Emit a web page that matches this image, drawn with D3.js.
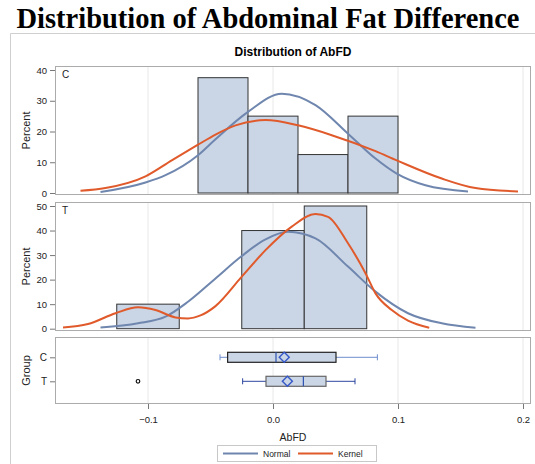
<!DOCTYPE html>
<html>
<head>
<meta charset="utf-8">
<script src="https://cdn.jsdelivr.net/npm/d3@7"></script>
<style>
  body { margin: 0; background: #fff; }
  svg text { font-family: "Liberation Sans", Arial, sans-serif; fill: #222; }
</style>
</head>
<body>
<div id="app"></div>
<script>
// histogram bins (AbFD) and percents
const edgesC = [-0.06, -0.02, 0.02, 0.06, 0.10]
const pctC = [37.5, 25, 12.5, 25]
const edgesT = [-0.125, -0.075, -0.025, 0.025, 0.075]
const pctT = [10, 0, 40, 50]

// density curves [AbFD, percent]
const normalC = [[-0.138,0.3],[-0.102,3.4],[-0.086,5.8],[-0.060,12.3],[-0.046,17.5],[-0.020,26.4],[0.007,32.3],[0.034,28.6],[0.060,19.3],[0.082,11.2],[0.099,6.3],[0.122,2.5],[0.156,0.5]]
const kernelC = [[-0.154,0.7],[-0.134,1.6],[-0.102,5.4],[-0.081,10.6],[-0.060,15.7],[-0.046,19.0],[-0.030,22],[-0.006,23.7],[0.020,22],[0.047,18.8],[0.082,13.6],[0.099,10.6],[0.135,4.7],[0.162,1.6],[0.196,0.5]]
const normalT = [[-0.138,0.5],[-0.108,2.2],[-0.086,4.9],[-0.068,11],[-0.046,20.5],[-0.025,29.6],[-0.006,36.4],[0.012,39.5],[0.034,36.8],[0.060,25.3],[0.082,15.1],[0.108,6.3],[0.135,2.2],[0.162,0.4]]
const kernelT = [[-0.168,0.5],[-0.148,1.9],[-0.126,6.3],[-0.108,8.7],[-0.094,7.6],[-0.078,4.6],[-0.068,4.2],[-0.058,5.4],[-0.046,9.2],[-0.025,21.2],[-0.006,32],[0.015,41.6],[0.034,46.7],[0.044,45.6],[0.060,34.8],[0.074,22.6],[0.082,14.4],[0.095,7.6],[0.108,3.3],[0.125,0.4]]

// box plot stats
const groups = ['C', 'T']
const boxStats = [
  {g: 'C', lo: -0.0424, q1: -0.0363, med: 0.0024, mean: 0.009, q3: 0.0504, hi: 0.0835, out: []},
  {g: 'T', lo: -0.0243, q1: -0.0056, med: 0.0243, mean: 0.0115, q3: 0.0424, hi: 0.0656, out: [-0.108]}
]

const xTicks = [-0.1, 0.0, 0.1, 0.2]
const yTicksC = [0, 10, 20, 30, 40]
const yTicksT = [0, 10, 20, 30, 40, 50]

const normalColor = '#6f86ae'
const kernelColor = '#e05a2b'
const fillColor = '#cad5e5'

const svg = d3.select('#app').append('svg').attr('width', 535).attr('height', 464)

// outer frame
svg.append('path').attr('d', 'M10.5,464 V33.5 H535').attr('fill', 'none').attr('stroke', '#cfcfcf')

svg.append('text').attr('x', 268).attr('y', 28).attr('text-anchor', 'middle')
  .style('font-family', '"Liberation Serif", "Times New Roman", serif')
  .style('font-weight', 'bold').style('font-size', '28.5px').style('fill', '#000')
  .text('Distribution of Abdominal Fat Difference')

svg.append('text').attr('x', 293).attr('y', 56).attr('text-anchor', 'middle')
  .style('font-weight', 'bold').style('font-size', '12px').style('fill', '#000')
  .text('Distribution of AbFD')

const L = 55, R = 531
const x = d3.scaleLinear().domain([-0.1, 0.2]).range([148, 523])

const panels = [
  {name: 'C', top: 66, bottom: 195, y: d3.scaleLinear().domain([0, 40]).range([193, 70]), ticks: yTicksC, edges: edgesC, pct: pctC, normal: normalC, kernel: kernelC},
  {name: 'T', top: 202, bottom: 331, y: d3.scaleLinear().domain([0, 50]).range([328.7, 206]), ticks: yTicksT, edges: edgesT, pct: pctT, normal: normalT, kernel: kernelT}
]

function grid(g, top, bottom) {
  g.selectAll('line.grid').data(xTicks).enter().append('line')
    .attr('class', 'grid')
    .attr('x1', d => x(d)).attr('x2', d => x(d))
    .attr('y1', top).attr('y2', bottom)
    .attr('stroke', '#e8e8e8')
}

panels.forEach(p => {
  const g = svg.append('g')
  g.append('rect').attr('x', L).attr('y', p.top).attr('width', R - L).attr('height', p.bottom - p.top).attr('fill', '#fff')
  grid(g, p.top, p.bottom)

  const bins = p.pct.map((v, i) => ({x0: p.edges[i], x1: p.edges[i + 1], v: v})).filter(d => d.v > 0)
  g.selectAll('rect.bar').data(bins).enter().append('rect')
    .attr('class', 'bar')
    .attr('x', d => x(d.x0)).attr('width', d => x(d.x1) - x(d.x0))
    .attr('y', d => p.y(d.v)).attr('height', d => p.y(0) - p.y(d.v))
    .attr('fill', fillColor).attr('stroke', '#333').attr('stroke-width', 1)

  const line = d3.line().x(d => x(d[0])).y(d => p.y(d[1])).curve(d3.curveMonotoneX)
  g.append('path').attr('d', line(p.normal)).attr('fill', 'none').attr('stroke', normalColor).attr('stroke-width', 2)
  g.append('path').attr('d', line(p.kernel)).attr('fill', 'none').attr('stroke', kernelColor).attr('stroke-width', 2)

  g.append('rect').attr('x', L + 0.5).attr('y', p.top + 0.5).attr('width', R - L - 1).attr('height', p.bottom - p.top - 1)
    .attr('fill', 'none').attr('stroke', '#ababab')

  g.append('text').attr('x', 62).attr('y', p.top + 12).style('font-size', '10px').text(p.name)

  const ax = g.append('g').attr('transform', `translate(${L},0)`)
    .call(d3.axisLeft(p.y).tickValues(p.ticks).tickSize(5).tickPadding(3))
  ax.select('.domain').remove()
  ax.selectAll('line').attr('stroke', '#777')
  ax.selectAll('text').style('font-size', '9.5px').style('font-family', '"Liberation Sans", Arial, sans-serif').attr('fill', '#222')

  svg.append('text').attr('transform', `translate(30,${(p.top + p.bottom) / 2}) rotate(-90)`)
    .attr('text-anchor', 'middle').style('font-size', '11px').text('Percent')
})

// box plot panel
const bTop = 337, bBottom = 404
const yb = d3.scalePoint().domain(groups).range([357.3, 381.3])
const gb = svg.append('g')
gb.append('rect').attr('x', L).attr('y', bTop).attr('width', R - L).attr('height', bBottom - bTop).attr('fill', '#fff')
grid(gb, bTop, bBottom)

const bh = 10
boxStats.forEach((s, i) => {
  const cy = yb(s.g)
  const wc = i === 0 ? '#6f8ecf' : '#2d46a0'
  gb.append('line').attr('x1', x(s.lo)).attr('x2', x(s.q1)).attr('y1', cy).attr('y2', cy).attr('stroke', wc)
  gb.append('line').attr('x1', x(s.q3)).attr('x2', x(s.hi)).attr('y1', cy).attr('y2', cy).attr('stroke', wc)
  ;[s.lo, s.hi].forEach(v => {
    gb.append('line').attr('x1', x(v)).attr('x2', x(v)).attr('y1', cy - 3).attr('y2', cy + 3).attr('stroke', wc)
  })
  gb.append('rect').attr('x', x(s.q1)).attr('width', x(s.q3) - x(s.q1))
    .attr('y', cy - bh / 2).attr('height', bh)
    .attr('fill', fillColor).attr('stroke', i === 0 ? '#222' : '#666').attr('stroke-width', 1.2)
  gb.append('line').attr('x1', x(s.med)).attr('x2', x(s.med)).attr('y1', cy - bh / 2).attr('y2', cy + bh / 2)
    .attr('stroke', '#2d52b0').attr('stroke-width', 1.2)
  gb.append('path').attr('d', d3.symbol().type(d3.symbolSquare).size(50)())
    .attr('transform', `translate(${x(s.mean)},${cy}) rotate(45)`)
    .attr('fill', 'none').attr('stroke', '#3558c8').attr('stroke-width', 1.4)
  s.out.forEach(o => {
    gb.append('circle').attr('cx', x(o)).attr('cy', cy).attr('r', 1.8)
      .attr('fill', 'none').attr('stroke', '#111').attr('stroke-width', 1.2)
  })
})

gb.append('rect').attr('x', L + 0.5).attr('y', bTop + 0.5).attr('width', R - L - 1).attr('height', bBottom - bTop - 1)
  .attr('fill', 'none').attr('stroke', '#ababab')

const gax = gb.append('g').attr('transform', `translate(${L},0)`)
  .call(d3.axisLeft(yb).tickSize(5).tickPadding(3))
gax.select('.domain').remove()
gax.selectAll('line').attr('stroke', '#777')
gax.selectAll('text').style('font-size', '10px').style('font-family', '"Liberation Sans", Arial, sans-serif').attr('fill', '#222')

svg.append('text').attr('transform', `translate(30,${(bTop + bBottom) / 2}) rotate(-90)`)
  .attr('text-anchor', 'middle').style('font-size', '11px').text('Group')

const xax = svg.append('g').attr('transform', `translate(0,${bBottom})`)
  .call(d3.axisBottom(x).tickValues(xTicks).tickFormat(d3.format('.1f')).tickSize(5).tickPadding(7))
xax.select('.domain').remove()
xax.selectAll('line').attr('stroke', '#777')
xax.selectAll('text').style('font-size', '9.5px').style('font-family', '"Liberation Sans", Arial, sans-serif').attr('fill', '#222')

svg.append('text').attr('x', 293).attr('y', 441).attr('text-anchor', 'middle').style('font-size', '10.5px').text('AbFD')

// legend
const lg = svg.append('g')
lg.append('rect').attr('x', 217.5).attr('y', 445.5).attr('width', 159).attr('height', 16).attr('fill', '#fff').attr('stroke', '#c8c8c8')
const items = [{label: 'Normal', c: normalColor, x0: 223}, {label: 'Kernel', c: kernelColor, x0: 298}]
items.forEach(it => {
  lg.append('line').attr('x1', it.x0).attr('x2', it.x0 + 35).attr('y1', 453.5).attr('y2', 453.5).attr('stroke', it.c).attr('stroke-width', 2)
  lg.append('text').attr('x', it.x0 + 40).attr('y', 456.5).style('font-size', '8.5px').text(it.label)
})
</script>
</body>
</html>
